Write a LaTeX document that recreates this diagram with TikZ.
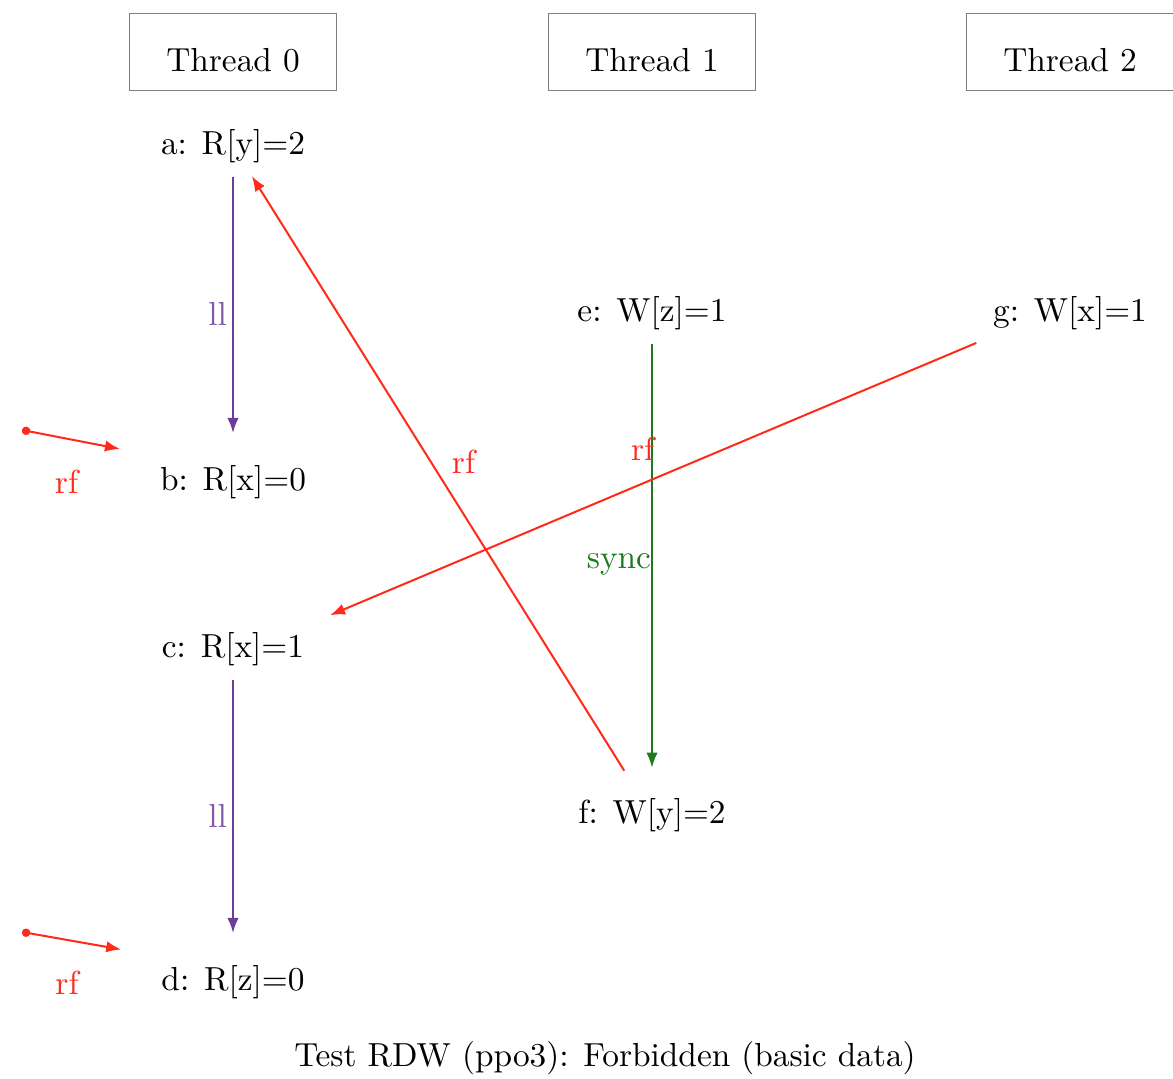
\documentclass[tikz,border=0pt]{standalone}
\usetikzlibrary{arrows.meta,positioning}
\definecolor{llpurple}{HTML}{6A3D9A}
\definecolor{syncgreen}{HTML}{1F7A1F}
\definecolor{rfred}{HTML}{FF2A1A}
\definecolor{boxgray}{HTML}{7F7F7F}

\begin{document}
\begin{tikzpicture}[x=0.3pt,y=-0.3pt,
    thread/.style={draw=boxgray,minimum width=62pt,minimum height=23pt,
      inner sep=0pt,text height=12pt,text depth=0pt},
    event/.style={inner sep=3pt},
    lbl/.style={inner sep=0pt},
    edge/.style={-{Latex[length=4.5pt,width=3.4pt]},line width=0.6pt},
    ll/.style={edge,draw=llpurple,shorten <=1pt,shorten >=6.5pt},
    sync/.style={edge,draw=syncgreen,shorten <=1pt,shorten >=6pt},
    rf/.style={edge,draw=rfred},
    rfinit/.style={{Circle[length=2.5pt]}-{Latex[length=4.5pt,width=3.4pt]},
      line width=0.6pt,draw=rfred,fill=rfred,shorten >=9pt}
  ]
  \useasboundingbox (0,0) rectangle (1173,1079);
  % thread headers
  \node[thread] (t0) at (233,52) {Thread 0};
  \node[thread] (t1) at (652,52) {Thread 1};
  \node[thread] (t2) at (1070,52) {Thread 2};
  % events
  \node[event] (a) at (233,146) {a: R[y]=2};
  \node[event] (b) at (233,482) {b: R[x]=0};
  \node[event] (c) at (233,649) {c: R[x]=1};
  \node[event] (d) at (233,982) {d: R[z]=0};
  \node[event] (e) at (652,313) {e: W[z]=1};
  \node[event] (f) at (652,815) {f: W[y]=2};
  \node[event] (g) at (1070,313) {g: W[x]=1};
  \coordinate (i1) at (22,430);
  \coordinate (i2) at (22,932);
  % edges
  \draw[ll] (a) -- node[lbl,left=1.5pt,text=llpurple!85] {ll} (b);
  \draw[ll] (c) -- node[lbl,left=1.5pt,text=llpurple!85] {ll} (d);
  \draw[sync] (e) -- node[lbl,left=0pt,text=syncgreen] {sync} (f);
  \draw[rf,shorten <=6pt,shorten >=1pt] (f) -- node[lbl,pos=0.53,right=6pt,text=rfred] {rf} (a);
  \draw[rf,shorten <=2pt,shorten >=5pt] (g.south west) -- node[lbl,pos=0.49,anchor=south east,yshift=5pt,text=rfred] {rf} (c.north east);
  \draw[rfinit] (i1) -- node[lbl,pos=0.35,below=9pt,text=rfred] {rf} (b.north west);
  \draw[rfinit] (i2) -- node[lbl,pos=0.35,below=9pt,text=rfred] {rf} (d.north west);
  % caption
  \node (cap) at (605,1058) {Test RDW (ppo3): Forbidden (basic data)};
\end{tikzpicture}
\end{document}
